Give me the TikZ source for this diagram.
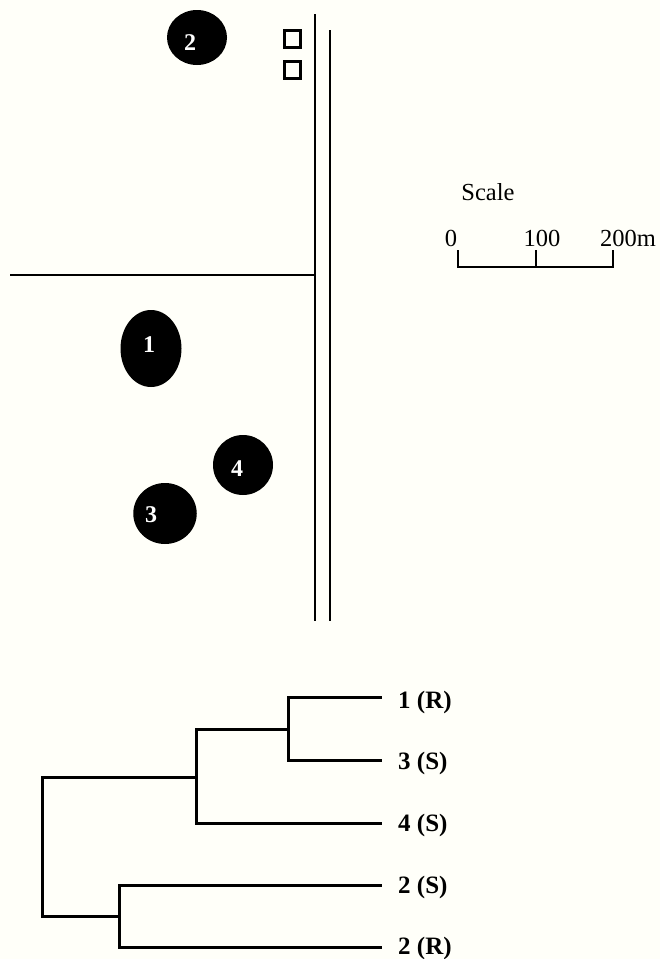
\documentclass[tikz,border=0pt]{standalone}
\usepackage{fontspec}
\setmainfont{Liberation Serif}
\usetikzlibrary{shapes.geometric}
\definecolor{paper}{HTML}{FFFFF9}
\tikzset{
 blob/.style={ellipse,fill=black,inner sep=0pt},
 blobnum/.style={inner sep=0pt,text=white,font=\bfseries\fontsize{24}{24}\selectfont},
 tree/.style={line width=3pt,line cap=rect,line join=miter},
 leaf/.style={anchor=west,inner sep=0pt,font=\bfseries\fontsize{25}{25}\selectfont},
 road/.style={line width=1.5pt},
 lab/.style={inner sep=0pt,font=\fontsize{24.5}{25}\selectfont},
 hut/.style={draw,line width=3pt,minimum width=16pt,minimum height=17pt,inner sep=0pt}
}
\begin{document}
\begin{tikzpicture}[x=1pt,y=-1pt]
\useasboundingbox[fill=paper] (0,0) rectangle (660,959);
\node[blob,minimum width=60pt,minimum height=55pt] (b2) at (197,37.5) {};
\node[blob,minimum width=61pt,minimum height=77pt] (b1) at (151,348.5) {};
\node[blob,minimum width=60pt,minimum height=60pt] (b4) at (243,465) {};
\node[blob,minimum width=63.5pt,minimum height=61pt] (b3) at (165,513.5) {};
\node[blobnum] (n2) at (190,43) {2};
\node[blobnum] (n1) at (149,344.5) {1};
\node[blobnum] (n4) at (237,469) {4};
\node[blobnum] (n3) at (151,515) {3};
\node[hut] (h1) at (292.5,39) {};
\node[hut] (h2) at (292.5,69.5) {};
\coordinate (r1a) at (315,14); \coordinate (r1b) at (315,621);
\coordinate (r2a) at (330,30); \coordinate (r2b) at (330,621);
\coordinate (h) at (10,275); \coordinate (hj) at (315,275);
\draw[road] (r1a) -- (r1b);
\draw[road] (r2a) -- (r2b);
\draw[road] (h) -- (hj);
\node[lab] (s) at (488,192) {Scale};
\node[lab] (t0) at (451,238) {0};
\node[lab] (t1) at (542,238) {100};
\node[lab] (t2) at (628,238) {200m};
\coordinate (a) at (458,267); \coordinate (b) at (536,267); \coordinate (c) at (613,267);
\draw[road] (a)++(0,-17) -- (a) -- (c) -- ++(0,-17);
\draw[road] (b) -- ++(0,-17);
\node[leaf] (l1) at (398,702) {1 (R)};
\node[leaf] (l3) at (398,763) {3 (S)};
\node[leaf] (l4) at (398,825) {4 (S)};
\node[leaf] (l2s) at (398,887) {2 (S)};
\node[leaf] (l2r) at (398,948) {2 (R)};
\coordinate (e1) at (380.5,697); \coordinate (e3) at (380.5,760); \coordinate (e4) at (380.5,823);
\coordinate (e2s) at (380.5,885); \coordinate (e2r) at (380.5,947);
\coordinate (n13) at (288,729);
\coordinate (n134) at (196,777);
\coordinate (root) at (42,777);
\coordinate (n22) at (119,916);
\draw[tree] (e1) -| (n13) |- (e3);
\draw[tree] (n13) -| (n134);
\draw[tree] (n134) |- (e4);
\draw[tree] (n134) -- (root) |- (n22);
\draw[tree] (e2s) -| (n22) |- (e2r);
\end{tikzpicture}
\end{document}
